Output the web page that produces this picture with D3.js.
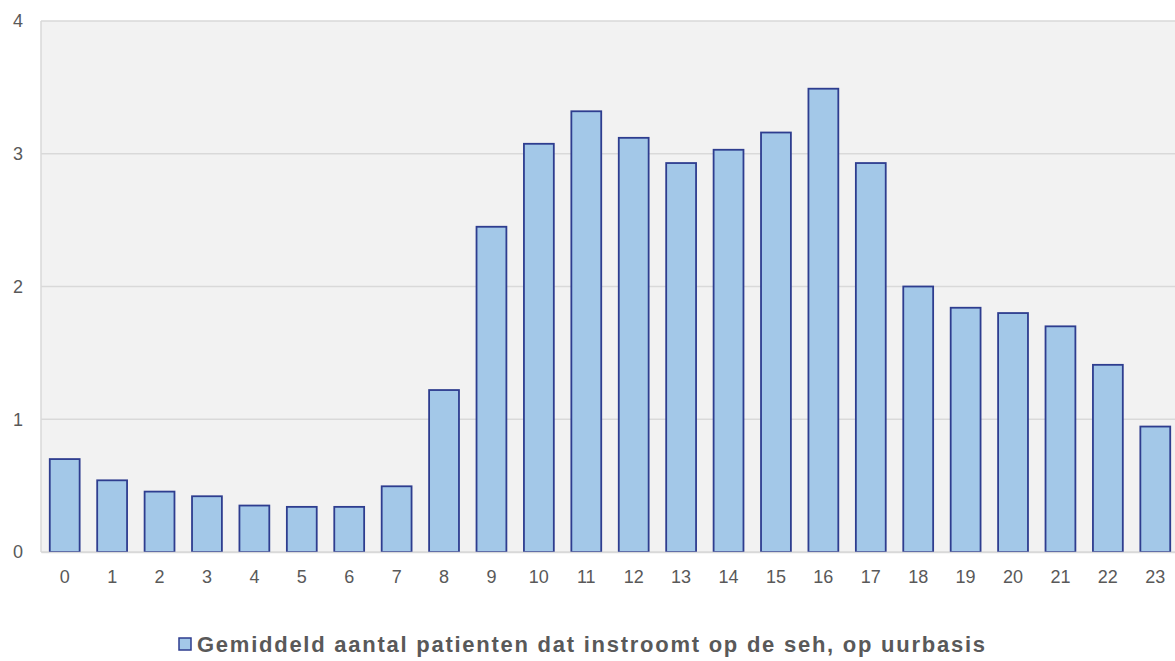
<!DOCTYPE html>
<html>
<head>
<meta charset="utf-8">
<script src="https://cdn.jsdelivr.net/npm/d3@7"></script>
<style>
    body { margin: 0; background: #ffffff; }
    text { font-family: "Liberation Sans", Arial, sans-serif; fill: #595959; }
</style>
</head>
<body>
<div id="SVG_CONTAINER"></div>
<script>
// hours of the day (categories)
const hours = ["0", "1", "2", "3", "4", "5", "6", "7", "8", "9", "10", "11",
    "12", "13", "14", "15", "16", "17", "18", "19", "20", "21", "22", "23"];

// average number of patients per hour
const patients = [0.70, 0.54, 0.455, 0.42, 0.35, 0.34, 0.34, 0.495, 1.22, 2.45, 3.075, 3.32,
    3.12, 2.93, 3.03, 3.16, 3.49, 2.93, 2.00, 1.84, 1.80, 1.70, 1.41, 0.945];

const yTicks = [0, 1, 2, 3, 4];

const legendLabel = "Gemiddeld aantal patienten dat instroomt op de seh, op uurbasis";

// dimension of our workspace
const width = 1175,
    height = 661;

const margin = {top: 21, left: 41, bottom: 109};

const svg = d3.select("#SVG_CONTAINER")
    .append("svg")
    .attr("width", width)
    .attr("height", height);

// scales
const x = d3.scaleBand()
    .domain(hours)
    .range([margin.left, 1179])
    .paddingInner(0.37)
    .paddingOuter(0.185);

const y = d3.scaleLinear()
    .domain([0, 4])
    .range([height - margin.bottom, margin.top]);

// plot background
svg.append("rect")
    .attr("x", margin.left)
    .attr("y", y(4))
    .attr("width", width - margin.left)
    .attr("height", y(0) - y(4))
    .attr("fill", "#f2f2f2");

// gridlines
svg.selectAll(".grid")
    .data(yTicks)
    .enter()
    .append("line")
    .attr("class", "grid")
    .attr("x1", margin.left)
    .attr("x2", width)
    .attr("y1", d => y(d))
    .attr("y2", d => y(d))
    .attr("stroke", "#d9d9d9")
    .attr("stroke-width", 1.5);

// left border
svg.append("line")
    .attr("x1", margin.left)
    .attr("x2", margin.left)
    .attr("y1", y(4))
    .attr("y2", y(0))
    .attr("stroke", "#d9d9d9")
    .attr("stroke-width", 1.5);

// y tick labels
svg.selectAll(".ylabel")
    .data(yTicks)
    .enter()
    .append("text")
    .attr("class", "ylabel")
    .attr("x", 23)
    .attr("y", d => y(d))
    .attr("dy", "0.35em")
    .attr("text-anchor", "end")
    .style("font-size", "18px")
    .text(d => d);

// bars
svg.selectAll(".bar")
    .data(patients)
    .enter()
    .append("rect")
    .attr("class", "bar")
    .attr("x", (d, i) => x(hours[i]))
    .attr("y", d => y(d))
    .attr("width", x.bandwidth())
    .attr("height", d => y(0) - y(d))
    .attr("fill", "#a3c8e8")
    .attr("stroke", "#2e3d8f")
    .attr("stroke-width", 1.8);

// x axis
const xAxis = svg.append("g")
    .attr("transform", "translate(0," + y(0) + ")")
    .call(d3.axisBottom(x).tickSize(0).tickPadding(18));
xAxis.select(".domain").attr("stroke", "#d9d9d9").attr("stroke-width", 1.5);
xAxis.selectAll("text")
    .style("font-size", "18px")
    .style("font-family", "Liberation Sans, Arial, sans-serif")
    .attr("fill", "#595959");

// legend
const legendY = 644;
svg.append("rect")
    .attr("x", 179)
    .attr("y", legendY - 6)
    .attr("width", 12)
    .attr("height", 12)
    .attr("fill", "#a3c8e8")
    .attr("stroke", "#2e3d8f")
    .attr("stroke-width", 1.5);

svg.append("text")
    .attr("x", 197)
    .attr("y", legendY)
    .attr("dy", "0.36em")
    .attr("textLength", 788)
    .attr("lengthAdjust", "spacing")
    .style("font-size", "22px")
    .style("font-weight", "bold")
    .text(legendLabel);
</script>
</body>
</html>
